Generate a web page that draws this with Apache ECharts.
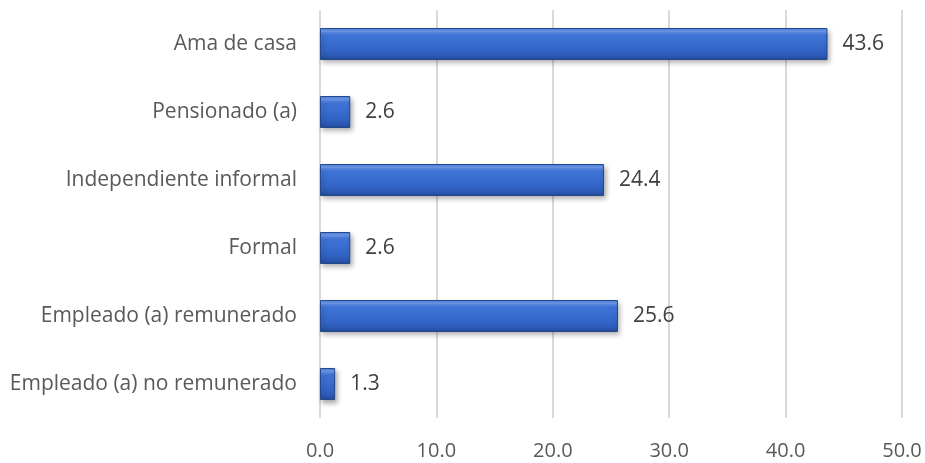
<!DOCTYPE html>
<html>
<head>
<meta charset="utf-8">
<script src="https://cdn.jsdelivr.net/npm/echarts@6/dist/echarts.min.js"></script>
<style>
html,body{margin:0;padding:0;background:#fff;}
#chart{width:925px;height:463px;}
</style>
</head>
<body>
<div id="chart"></div>
<script>
// Data (bottom to top, as drawn on the category axis)
const categories = [
  'Empleado (a) no remunerado',
  'Empleado (a) remunerado',
  'Formal',
  'Independiente informal',
  'Pensionado (a)',
  'Ama de casa'
];
const values = [1.3, 25.6, 2.6, 24.4, 2.6, 43.6];
const axisMin = 0;
const axisMax = 50;
const axisStep = 10;

const chart = echarts.init(document.getElementById('chart'));
const FONT = '"Open Sans", "Noto Sans", sans-serif';

chart.setOption({
  animation: false,
  backgroundColor: '#ffffff',
  grid: { left: 320, right: 23, top: 10, bottom: 45, containLabel: false },
  xAxis: {
    type: 'value',
    min: axisMin,
    max: axisMax,
    interval: axisStep,
    axisLine: { show: false },
    axisTick: { show: false },
    splitLine: { show: true, lineStyle: { color: '#d9d9d9', width: 2 } },
    axisLabel: {
      color: '#595959',
      fontFamily: FONT,
      fontSize: 20,
      margin: 23,
      formatter: v => v.toFixed(1)
    }
  },
  yAxis: {
    type: 'category',
    data: categories,
    axisLine: { show: false },
    axisTick: { show: false },
    axisLabel: {
      color: '#595959',
      fontFamily: FONT,
      fontSize: 21,
      margin: 23
    }
  },
  series: [{
    type: 'bar',
    data: values,
    barCategoryGap: '53%',
    itemStyle: {
      color: new echarts.graphic.LinearGradient(0, 0, 0, 1, [
        { offset: 0, color: '#4c80e0' },
        { offset: 0.1, color: '#6d9cef' },
        { offset: 0.22, color: '#3f74d8' },
        { offset: 0.75, color: '#3163c4' },
        { offset: 0.92, color: '#2955ad' },
        { offset: 1, color: '#21448c' }
      ]),
      borderColor: '#25478c',
      borderWidth: 1,
      shadowBlur: 5,
      shadowColor: 'rgba(0,0,0,0.35)',
      shadowOffsetX: 2,
      shadowOffsetY: 3
    },
    label: {
      show: true,
      position: 'right',
      distance: 15,
      color: '#404040',
      fontFamily: FONT,
      fontSize: 21,
      formatter: p => p.value.toFixed(1)
    }
  }]
});
</script>
</body>
</html>
